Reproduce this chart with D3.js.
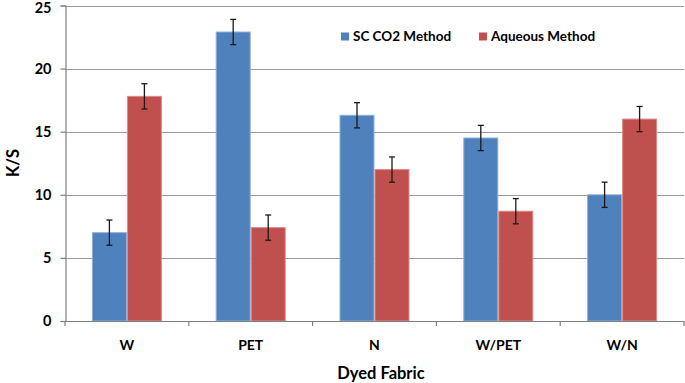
<!DOCTYPE html>
<html>
<head>
<meta charset="utf-8">
<script src="https://cdn.jsdelivr.net/npm/d3@7"></script>
<style>
  html, body { margin: 0; padding: 0; background: #fff; }
  svg { display: block; font-family: Lato, "Open Sans", "Liberation Sans", sans-serif; font-weight: bold; }
</style>
</head>
<body>
<svg id="chart" width="685" height="383"></svg>
<script>
const categories = ["W", "PET", "N", "W/PET", "W/N"];
const seriesNames = ["SC CO2 Method", "Aqueous Method"];
const scco2Values = [7.0, 22.9, 16.3, 14.5, 10.0];
const aqueousValues = [17.8, 7.4, 12.0, 8.7, 16.0];
const scco2Errors = [1.0, 1.0, 1.0, 1.0, 1.0];
const aqueousErrors = [1.0, 1.0, 1.0, 1.0, 1.0];
const yTicks = [0, 5, 10, 15, 20, 25];
const colors = ["#4F81BD", "#C0504D"];
const strokeColors = ["#8eb0d9", "#d98c8a"];

const svg = d3.select("#chart");
const plotLeft = 65, plotRight = 684, plotTop = 5.5, plotBottom = 321;

const x0 = d3.scaleBand().domain(categories).range([plotLeft, plotRight]).paddingInner(0.4346).paddingOuter(0.2173);
const x1 = d3.scaleBand().domain(seriesNames).range([0, x0.bandwidth()]);
const y = d3.scaleLinear().domain([0, 25]).range([plotBottom, plotTop]);

const data = categories.map((c, i) => ({
  cat: c,
  vals: [
    { s: seriesNames[0], v: scco2Values[i], e: scco2Errors[i], k: 0 },
    { s: seriesNames[1], v: aqueousValues[i], e: aqueousErrors[i], k: 1 }
  ]
}));

// gridlines
svg.append("g").selectAll("line").data(yTicks.filter(d => d > 0)).join("line")
  .attr("x1", plotLeft).attr("x2", plotRight)
  .attr("y1", d => Math.round(y(d)) + 0.5).attr("y2", d => Math.round(y(d)) + 0.5)
  .attr("stroke", "#9a9a9a").attr("stroke-width", 1.2);

// bars
const groups = svg.append("g").selectAll("g").data(data).join("g")
  .attr("transform", d => `translate(${x0(d.cat)},0)`);
groups.selectAll("rect").data(d => d.vals).join("rect")
  .attr("x", d => x1(d.s) + 0.5)
  .attr("width", x1.bandwidth() - 1)
  .attr("y", d => y(d.v))
  .attr("height", d => y(0) - y(d.v))
  .attr("fill", d => colors[d.k])
  .attr("stroke", d => strokeColors[d.k]).attr("stroke-width", 1);

// error bars
const eb = groups.selectAll("g.eb").data(d => d.vals).join("g").attr("class", "eb")
  .attr("transform", d => `translate(${x1(d.s) + x1.bandwidth() / 2},0)`);
eb.append("line").attr("x1", 0).attr("x2", 0)
  .attr("y1", d => y(d.v + d.e)).attr("y2", d => y(d.v - d.e))
  .attr("stroke", "#1a1a1a").attr("stroke-width", 1.3);
eb.append("line").attr("x1", -3).attr("x2", 3)
  .attr("y1", d => y(d.v + d.e)).attr("y2", d => y(d.v + d.e))
  .attr("stroke", "#1a1a1a").attr("stroke-width", 1.3);
eb.append("line").attr("x1", -3).attr("x2", 3)
  .attr("y1", d => y(d.v - d.e)).attr("y2", d => y(d.v - d.e))
  .attr("stroke", "#1a1a1a").attr("stroke-width", 1.3);

// y axis
const yAxis = d3.axisLeft(y).tickValues(yTicks).tickSize(5).tickPadding(9);
const gy = svg.append("g").attr("transform", `translate(${plotLeft + 0.5},0)`).call(yAxis);
gy.select(".domain").attr("stroke", "#7f7f7f").attr("stroke-width", 1.2);
gy.selectAll(".tick line").attr("stroke", "#7f7f7f").attr("stroke-width", 1.2);
gy.selectAll(".tick text").attr("font-size", 14.5).attr("font-weight", "bold")
  .attr("fill", "#000").attr("font-family", "Lato, 'Open Sans', sans-serif")
  .attr("dy", d => d === 25 ? "0.5em" : "0.34em");

// x axis
const step = x0.step();
const boundaries = categories.map(c => x0(c) - (step - x0.bandwidth()) / 2).concat([plotRight]);
const gx = svg.append("g");
gx.append("line").attr("x1", plotLeft).attr("x2", plotRight)
  .attr("y1", y(0) + 0.5).attr("y2", y(0) + 0.5)
  .attr("stroke", "#7f7f7f").attr("stroke-width", 1.2);
gx.selectAll("line.tk").data(boundaries).join("line").attr("class", "tk")
  .attr("x1", d => d).attr("x2", d => d)
  .attr("y1", y(0)).attr("y2", y(0) + 5)
  .attr("stroke", "#7f7f7f").attr("stroke-width", 1.2);
gx.selectAll("text").data(categories).join("text")
  .attr("x", d => x0(d) + x0.bandwidth() / 2)
  .attr("y", 350)
  .attr("text-anchor", "middle")
  .attr("font-size", 14).attr("fill", "#000")
  .text(d => d);

// axis titles
svg.append("text").attr("x", 381).attr("y", 379).attr("text-anchor", "middle")
  .attr("font-size", 16.5).attr("fill", "#000").text("Dyed Fabric");
svg.append("text").attr("transform", "translate(19,163) rotate(-90)").attr("text-anchor", "middle")
  .attr("font-size", 16.5).attr("fill", "#000").text("K/S");

// legend
const legendX = [341, 479];
const leg = svg.append("g").selectAll("g").data(seriesNames).join("g")
  .attr("transform", (d, i) => `translate(${legendX[i]},32.5)`);
leg.append("rect").attr("width", 8).attr("height", 8).attr("fill", (d, i) => colors[i]);
leg.append("text").attr("x", 12).attr("y", 8.5).attr("font-size", 13.5).attr("fill", "#000").text(d => d);
</script>
</body>
</html>
